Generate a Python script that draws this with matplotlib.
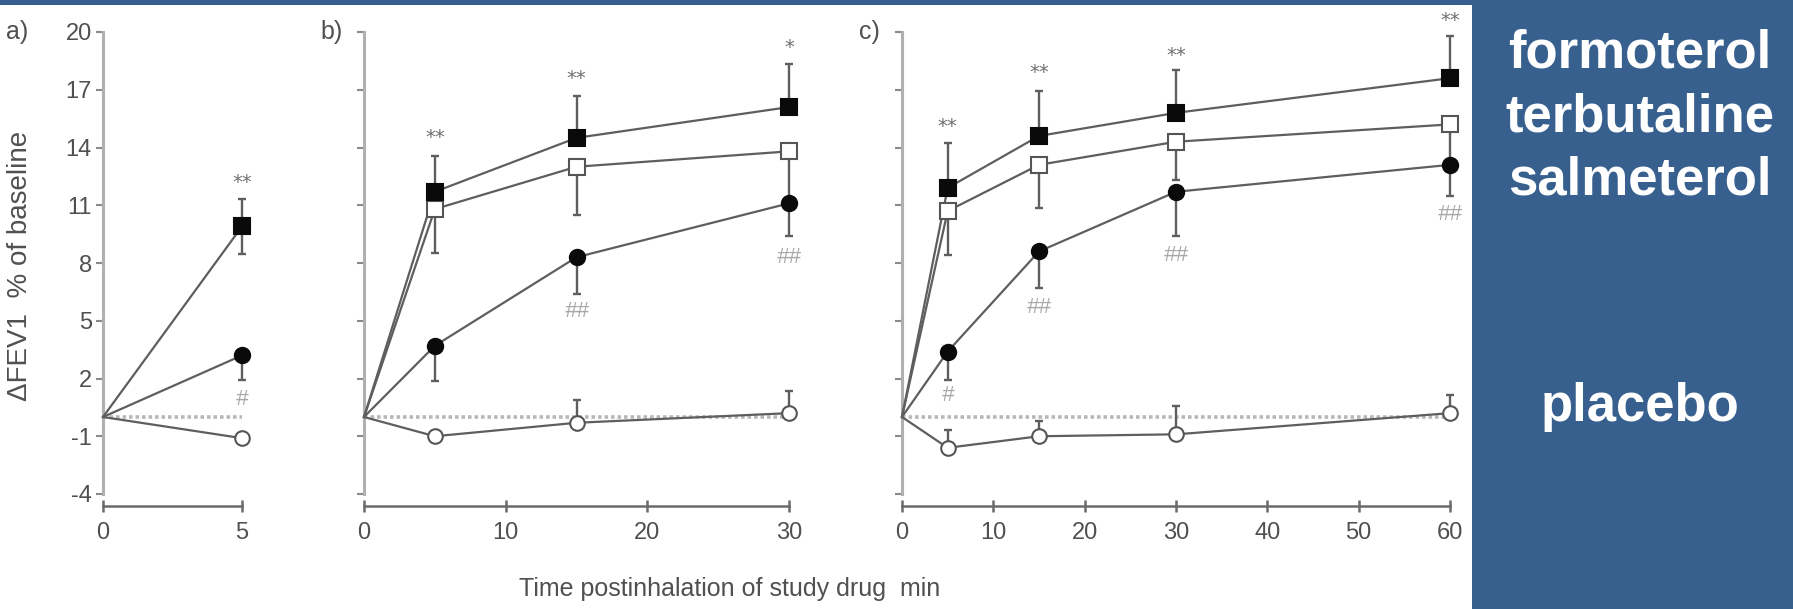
import matplotlib
matplotlib.use("Agg")
import matplotlib.pyplot as plt
from matplotlib import font_manager
from matplotlib.patches import Rectangle

# ---------------- data ----------------
yticks = [-4, -1, 2, 5, 8, 11, 14, 17, 20]
ytick_labels = ['-4', '-1', '2', '5', '8', '11', '14', '17', '20']

# panel a (0-5 min)
t_a = [0, 5]
form_a = [0, 9.9]
form_a_lo = [0, 1.45]
form_a_hi = [0, 1.45]
salm_a = [0, 3.2]
salm_a_lo = [0, 1.3]
plac_a = [0, -1.1]
xt_a = [0, 5]
ann_a = [(5, 12.2, '**', 'star'), (5, 0.9, '#', 'hash')]

# panel b (0-30 min)
t_b = [0, 5, 15, 30]
form_b = [0, 11.7, 14.5, 16.1]
form_b_hi = [0, 1.85, 2.2, 2.25]
terb_b = [0, 10.8, 13.0, 13.8]
terb_b_lo = [0, 2.3, 2.5, 2.4]
salm_b = [0, 3.7, 8.3, 11.1]
salm_b_lo = [0, 1.85, 1.9, 1.7]
plac_b = [0, -1.0, -0.3, 0.2]
plac_b_hi = [0, 0, 1.2, 1.15]
xt_b = [0, 10, 20, 30]
ann_b = [(5, 14.5, '**', 'star'), (15, 17.6, '**', 'star'), (30, 19.2, '*', 'star'),
         (15, 5.5, '##', 'hash'), (30, 8.3, '##', 'hash')]

# panel c (0-60 min)
t_c = [0, 5, 15, 30, 60]
form_c = [0, 11.9, 14.6, 15.8, 17.6]
form_c_hi = [0, 2.35, 2.35, 2.25, 2.2]
terb_c = [0, 10.7, 13.1, 14.3, 15.2]
terb_c_lo = [0, 2.3, 2.25, 2.0, 1.8]
salm_c = [0, 3.4, 8.6, 11.7, 13.1]
salm_c_lo = [0, 1.5, 1.9, 2.3, 1.6]
plac_c = [0, -1.6, -1.0, -0.9, 0.2]
plac_c_hi = [0, 0.95, 0.8, 1.45, 0.95]
xt_c = [0, 10, 20, 30, 40, 50, 60]
ann_c = [(5, 15.1, '**', 'star'), (15, 17.9, '**', 'star'), (30, 18.8, '**', 'star'),
         (60, 20.6, '**', 'star'), (5, 1.1, '#', 'hash'), (15, 5.7, '##', 'hash'),
         (30, 8.4, '##', 'hash'), (60, 10.5, '##', 'hash')]

legend_names = ['formoterol', 'terbutaline', 'salmeterol', 'placebo']

# ---------------- style ----------------
names = {f.name for f in font_manager.fontManager.ttflist}
NARROW = 'Liberation Sans Narrow' if 'Liberation Sans Narrow' in names else 'Liberation Sans'
BOLD = 'Liberation Sans' if 'Liberation Sans' in names else 'DejaVu Sans'

W, H = 1793, 609
DPI = 100
BLUE = '#37608F'
LINE = '#5e5e5e'
TXT = '#505050'

fig = plt.figure(figsize=(W / DPI, H / DPI), dpi=DPI)
fig.patch.set_facecolor('white')

Y20_PX, YM4_PX = 32.0, 494.0
YS = (YM4_PX - Y20_PX) / 24.0
AX_BOTTOM_PX = 506.0
AX_TOP_PX = 10.0
YLIM = (-4 - (AX_BOTTOM_PX - YM4_PX) / YS, 20 + (Y20_PX - AX_TOP_PX) / YS)


def make_ax(xd0, xd1, px0, px1, xlim):
    s = (px1 - px0) / (xd1 - xd0)
    left = px0 + (xlim[0] - xd0) * s
    right = px0 + (xlim[1] - xd0) * s
    ax = fig.add_axes([left / W, 1 - AX_BOTTOM_PX / H, (right - left) / W,
                       (AX_BOTTOM_PX - AX_TOP_PX) / H])
    ax.set_xlim(*xlim)
    ax.set_ylim(*YLIM)
    ax.set_facecolor('none')
    for sp in ['top', 'right']:
        ax.spines[sp].set_visible(False)
    ax.spines['left'].set_position(('data', xd0))
    ax.spines['left'].set_bounds(-4, 20)
    ax.spines['left'].set_color('#b0b0b0')
    ax.spines['left'].set_linewidth(2.2)
    ax.spines['bottom'].set_bounds(xd0, xd1)
    ax.spines['bottom'].set_color('#6a6a6a')
    ax.spines['bottom'].set_linewidth(1.8)
    ax.set_yticks(yticks)
    ax.tick_params(axis='y', direction='out', length=5, width=1.5, color='#8a8a8a',
                   pad=3, labelsize=17, labelcolor=TXT)
    ax.tick_params(axis='x', direction='inout', length=9, width=1.8, color='#6a6a6a',
                   pad=7, labelsize=17, labelcolor=TXT)
    for lab in ax.get_xticklabels() + ax.get_yticklabels():
        lab.set_family(NARROW)
    return ax


def draw_err(ax, x, y, lo, hi):
    ax.errorbar(x, y, yerr=[lo, hi], fmt='none', ecolor=LINE, elinewidth=1.7,
                capsize=3, capthick=1.7, zorder=2)


def series(ax, x, y, marker, filled, ms=11):
    ax.plot(x, y, color=LINE, lw=1.6, zorder=3, clip_on=False)
    ax.plot(x[1:], y[1:], ls='none', marker=marker, ms=ms,
            mfc='#0a0a0a' if filled else 'white',
            mec='#0a0a0a' if filled else '#555555', mew=1.5, zorder=4, clip_on=False)


def baseline(ax, x):
    ax.plot([x[0], x[-1]], [0, 0], color='#b8b8b8', lw=2.6, ls=(0, (1, 0.8)), zorder=1)


def annotate(ax, anns):
    for x, y, s, kind in anns:
        if kind == 'star':
            ax.text(x, y, s, ha='center', va='center', fontsize=14, color='#707070',
                    family='DejaVu Sans', clip_on=False, zorder=5)
        else:
            ax.text(x, y, s, ha='center', va='center', fontsize=16, color='#a8a8a8',
                    family=NARROW, style='italic', clip_on=False, zorder=5)


# ---------------- panel a ----------------
ax_a = make_ax(0, 5, 103, 242, (-0.2, 5.2))
ax_a.set_xticks(xt_a)
ax_a.set_yticklabels(ytick_labels)
for lab in ax_a.get_yticklabels():
    lab.set_family(NARROW)
baseline(ax_a, t_a)
draw_err(ax_a, t_a[1:], form_a[1:], form_a_lo[1:], form_a_hi[1:])
draw_err(ax_a, t_a[1:], salm_a[1:], salm_a_lo[1:], [0] * (len(t_a) - 1))
series(ax_a, t_a, plac_a, 'o', False, 10.5)
series(ax_a, t_a, salm_a, 'o', True)
series(ax_a, t_a, form_a, 's', True)
annotate(ax_a, ann_a)

# ---------------- panel b ----------------
ax_b = make_ax(0, 30, 364, 789, (-1, 31))
ax_b.set_xticks(xt_b)
ax_b.tick_params(axis='y', labelleft=False)
baseline(ax_b, t_b)
zeros_b = [0] * (len(t_b) - 1)
draw_err(ax_b, t_b[1:], plac_b[1:], zeros_b, plac_b_hi[1:])
draw_err(ax_b, t_b[1:], salm_b[1:], salm_b_lo[1:], zeros_b)
draw_err(ax_b, t_b[1:], terb_b[1:], terb_b_lo[1:], zeros_b)
draw_err(ax_b, t_b[1:], form_b[1:], zeros_b, form_b_hi[1:])
series(ax_b, t_b, plac_b, 'o', False, 10.5)
series(ax_b, t_b, salm_b, 'o', True)
series(ax_b, t_b, terb_b, 's', False)
series(ax_b, t_b, form_b, 's', True)
annotate(ax_b, ann_b)

# ---------------- panel c ----------------
ax_c = make_ax(0, 60, 902, 1450, (-1.5, 61.5))
ax_c.set_xticks(xt_c)
ax_c.tick_params(axis='y', labelleft=False)
baseline(ax_c, t_c)
zeros_c = [0] * (len(t_c) - 1)
draw_err(ax_c, t_c[1:], plac_c[1:], zeros_c, plac_c_hi[1:])
draw_err(ax_c, t_c[1:], salm_c[1:], salm_c_lo[1:], zeros_c)
draw_err(ax_c, t_c[1:], terb_c[1:], terb_c_lo[1:], zeros_c)
draw_err(ax_c, t_c[1:], form_c[1:], zeros_c, form_c_hi[1:])
series(ax_c, t_c, plac_c, 'o', False, 10.5)
series(ax_c, t_c, salm_c, 'o', True)
series(ax_c, t_c, terb_c, 's', False)
series(ax_c, t_c, form_c, 's', True)
annotate(ax_c, ann_c)

# y label, panel letters and x label
fig.text(20 / W, 1 - 266 / H, '\u0394FEV1  % of baseline', rotation=90, ha='center',
         va='center', fontsize=20, family=NARROW, color=TXT)
for lbl, xp in [('a)', 17), ('b)', 332), ('c)', 869)]:
    fig.text(xp / W, 1 - 32 / H, lbl, ha='center', va='center', fontsize=18,
             family=NARROW, color=TXT)
fig.text(730 / W, 1 - 589 / H, 'Time postinhalation of study drug  min', ha='center',
         va='center', fontsize=18, family=NARROW, color=TXT)

# ---------------- blue side panel ----------------
fig.patches.append(Rectangle((1472 / W, 0), (W - 1472) / W, 1, transform=fig.transFigure,
                             facecolor=BLUE, edgecolor='none', zorder=0))
fig.patches.append(Rectangle((0, 1 - 5 / H), 1, 5 / H, transform=fig.transFigure,
                             facecolor=BLUE, edgecolor='none', zorder=0))
for name, base_px in zip(legend_names, [68, 131, 194, 421]):
    fig.text(1640 / W, 1 - base_px / H, name, ha='center', va='baseline', fontsize=38,
             fontweight='bold', family=BOLD, color='white')

fig.savefig('out.png', dpi=DPI, facecolor='white')
